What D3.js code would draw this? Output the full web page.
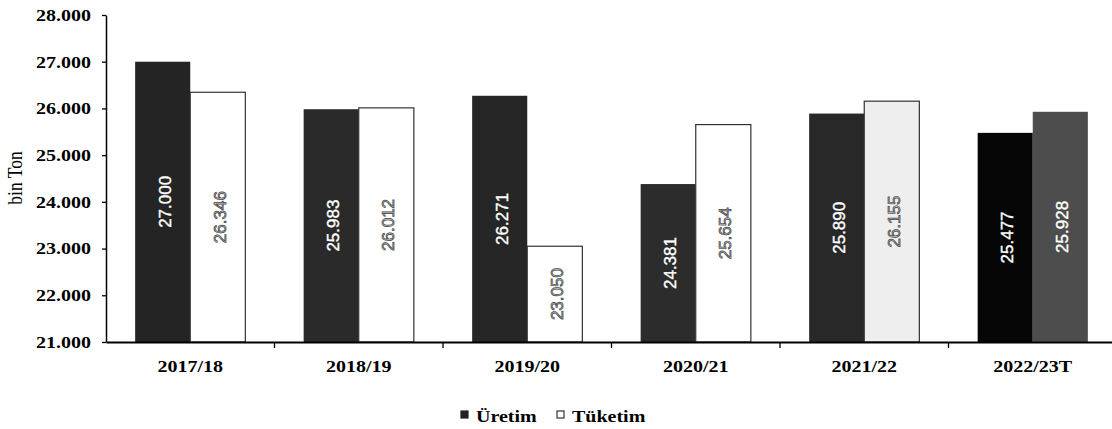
<!DOCTYPE html>
<html>
<head>
<meta charset="utf-8">
<script src="https://cdn.jsdelivr.net/npm/d3@7"></script>
<style>
  html, body { margin: 0; padding: 0; background: #fff; }
  svg { display: block; }
</style>
</head>
<body>
<svg id="chart" width="1112" height="429"></svg>
<script>
// ---- data ----
const categories = ["2017/18", "2018/19", "2019/20", "2020/21", "2021/22", "2022/23T"];
const uretim = [27000, 25983, 26271, 24381, 25890, 25477];
const tuketim = [26346, 26012, 23050, 25654, 26155, 25928];
const yTickValues = [21000, 22000, 23000, 24000, 25000, 26000, 27000, 28000];
const seriesNames = ["Üretim", "Tüketim"];

// ---- styles ----
const uretimFill = ["#242424", "#2a2a2a", "#262626", "#2c2c2c", "#282828", "#060606"];
const tuketimFill = ["#ffffff", "#ffffff", "#ffffff", "#ffffff", "#eeeeee", "#4d4d4d"];
const SERIF = "'Liberation Serif','Times New Roman',serif";
const SANS = "'Liberation Sans',Arial,sans-serif";
const SX = 1.25; // horizontal stretch of scanned text

const svg = d3.select("#chart");
const mLeft = 106, mRight = 1117, mTop = 15, mBottom = 342;

const x0 = d3.scaleBand().domain(categories).range([mLeft, mRight])
  .paddingInner(0.346).paddingOuter(0.173);
const x1 = d3.scaleBand().domain(seriesNames).range([0, x0.bandwidth()]);
const y = d3.scaleLinear().domain([21000, 28000]).range([mBottom, mTop]);

const fmt = v => d3.format(",")(v).replace(/,/g, ".");

const rows = categories.map((c, i) => ({
  cat: c, i,
  vals: [
    { s: "Üretim", v: uretim[i], fill: uretimFill[i] },
    { s: "Tüketim", v: tuketim[i], fill: tuketimFill[i] }
  ]
}));

// bars
const g = svg.append("g");
const groups = g.selectAll("g.grp").data(rows).join("g")
  .attr("transform", d => `translate(${x0(d.cat)},0)`);

groups.selectAll("rect").data(d => d.vals.map(v => ({...v, i: d.i}))).join("rect")
  .attr("x", d => x1(d.s))
  .attr("y", d => y(d.v))
  .attr("width", x1.bandwidth())
  .attr("height", d => y(21000) - y(d.v))
  .attr("fill", d => d.fill)
  .attr("stroke", d => d.s === "Tüketim" && d.i < 5 ? "#333" : "none")
  .attr("stroke-width", 1.2);

// value labels (rotated)
const lightLabel = d => d.s === "Üretim" || d.i === 5;
groups.selectAll("text.val").data(d => d.vals.map(v => ({...v, i: d.i}))).join("text")
  .attr("class", "val")
  .attr("transform", d => {
    const cx = x1(d.s) + x1.bandwidth() / 2 + 2;
    const cy = (y(d.v) + y(21000)) / 2;
    return `translate(${cx},${cy}) rotate(-90)`;
  })
  .attr("text-anchor", "middle")
  .attr("dy", "0.35em")
  .style("font-family", SANS)
  .style("font-size", "17px")
  .attr("fill", d => lightLabel(d) ? "#fff" : "#bbb")
  .attr("stroke", d => lightLabel(d) ? "#fff" : "#444")
  .attr("stroke-width", d => lightLabel(d) ? 0.4 : 0.7)
  .text(d => fmt(d.v));

// y axis
const yAxis = svg.append("g").attr("transform", `translate(${mLeft},0)`)
  .call(d3.axisLeft(y).tickValues(yTickValues).tickSize(4).tickSizeOuter(0).tickFormat(fmt));
yAxis.select(".domain").attr("stroke", "#000").attr("stroke-width", 1.5);
yAxis.selectAll(".tick line").attr("stroke", "#000").attr("stroke-width", 1.3);
yAxis.selectAll(".tick text")
  .attr("x", -15 / SX)
  .attr("dy", "0.33em")
  .attr("transform", `scale(${SX},1)`)
  .style("font-family", SERIF)
  .style("font-size", "16px")
  .style("font-weight", "bold")
  .attr("fill", "#000");

// x axis
const xAxis = svg.append("g").attr("transform", `translate(0,${mBottom})`)
  .call(d3.axisBottom(x0).tickSize(0).tickSizeOuter(0));
xAxis.select(".domain").attr("stroke", "#000").attr("stroke-width", 2);
xAxis.selectAll(".tick text")
  .attr("y", 30)
  .attr("dy", 0)
  .attr("transform", `scale(${SX},1)`)
  .style("font-family", SERIF)
  .style("font-size", "16px")
  .style("font-weight", "bold")
  .attr("fill", "#000");

// category separators
const step = x0.step();
svg.append("g").selectAll("line").data(d3.range(1, categories.length)).join("line")
  .attr("x1", i => mLeft + i * step).attr("x2", i => mLeft + i * step)
  .attr("y1", mBottom).attr("y2", mBottom + 6)
  .attr("stroke", "#000").attr("stroke-width", 1.3);

// y label
svg.append("text")
  .attr("transform", `translate(22,178) rotate(-90) scale(1,${SX})`)
  .attr("text-anchor", "middle")
  .style("font-family", SERIF)
  .style("font-size", "17.5px")
  .attr("fill", "#000")
  .text("bin Ton");

// legend
const legend = svg.append("g");
const legItems = [
  { name: "Üretim", mx: 461, tx: 476, fill: "#222", stroke: "#222" },
  { name: "Tüketim", mx: 557, tx: 572, fill: "#fff", stroke: "#333" }
];
legItems.forEach(it => {
  legend.append("rect").attr("x", it.mx).attr("y", 411).attr("width", 7).attr("height", 7)
    .attr("fill", it.fill).attr("stroke", it.stroke).attr("stroke-width", 1.2);
  legend.append("text")
    .attr("transform", `translate(${it.tx},422) scale(${SX},1)`)
    .style("font-family", SERIF)
    .style("font-size", "16px")
    .style("font-weight", "bold")
    .attr("fill", "#000")
    .text(it.name);
});
</script>
</body>
</html>
